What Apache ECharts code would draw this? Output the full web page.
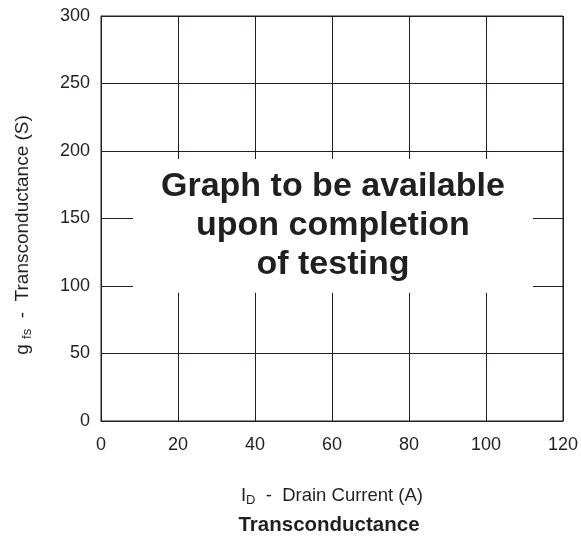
<!DOCTYPE html>
<html>
<head>
<meta charset="utf-8">
<script src="https://cdn.jsdelivr.net/npm/echarts@6/dist/echarts.min.js"></script>
<style>
  html, body { margin: 0; padding: 0; background: #fff; }
  #main { width: 581px; height: 540px; }
</style>
</head>
<body>
<div id="main"></div>
<script>
// axis ranges (drain current A, transconductance S)
const xRange = [0, 120];
const xStep = 20;
const yRange = [0, 300];
const yStep = 50;
// placeholder box in data units, and its message
const boxX = [8.3, 112.2];
const boxY = [95, 194];
const message = 'Graph to be available\nupon completion\nof testing';

const ink = '#231f20';
const font = 'Liberation Sans, Arial, sans-serif';

const chart = echarts.init(document.getElementById('main'));
chart.setOption({
  backgroundColor: '#fff',
  animation: false,
  textStyle: { fontFamily: font, color: ink },
  title: {
    text: 'Transconductance',
    left: 324,
    top: 510,
    textAlign: 'center',
    textStyle: { fontFamily: font, fontSize: 20.5, fontWeight: 'bold', color: ink }
  },
  grid: {
    left: 101,
    right: 16,
    top: 16,
    bottom: 119,
    show: true,
    borderColor: ink,
    borderWidth: 1
  },
  xAxis: {
    type: 'value',
    min: xRange[0],
    max: xRange[1],
    interval: xStep,
    name: '{a|I}{s|D}{a|  -  Drain Current (A)}',
    nameLocation: 'middle',
    nameGap: 64,
    nameTextStyle: {
      rich: {
        a: { fontFamily: font, fontSize: 18.5, color: ink },
        s: { fontFamily: font, fontSize: 13, color: ink, padding: [9, 0, 0, 0] }
      }
    },
    axisLine: { lineStyle: { color: ink, width: 1 } },
    axisTick: { show: false },
    axisLabel: { margin: 15, fontSize: 18, color: ink, fontFamily: font },
    splitLine: { show: true, lineStyle: { color: ink, width: 1 } }
  },
  yAxis: {
    type: 'value',
    min: yRange[0],
    max: yRange[1],
    interval: yStep,
    name: '{a|g }{s|fs}{a|  -  Transconductance (S)}',
    nameLocation: 'middle',
    nameGap: 67,
    nameTextStyle: {
      padding: [0, 33, 0, 0],
      rich: {
        a: { fontFamily: font, fontSize: 19, color: ink },
        s: { fontFamily: font, fontSize: 13, color: ink, padding: [9, 0, 0, 0] }
      }
    },
    axisLine: { lineStyle: { color: ink, width: 1 } },
    axisTick: { show: false },
    axisLabel: { margin: 11, fontSize: 18, color: ink, fontFamily: font },
    splitLine: { show: true, lineStyle: { color: ink, width: 1 } }
  },
  series: [
    {
      type: 'line',
      data: [],
      silent: true,
      markArea: {
        silent: true,
        itemStyle: { color: '#fff', opacity: 1 },
        label: {
          show: true,
          position: 'inside',
          formatter: message,
          fontFamily: font,
          fontSize: 34,
          fontWeight: 'bold',
          lineHeight: 39,
          color: ink,
          align: 'center'
        },
        data: [[
          { coord: [boxX[0], boxY[1]] },
          { coord: [boxX[1], boxY[0]] }
        ]]
      }
    }
  ]
});
</script>
</body>
</html>
